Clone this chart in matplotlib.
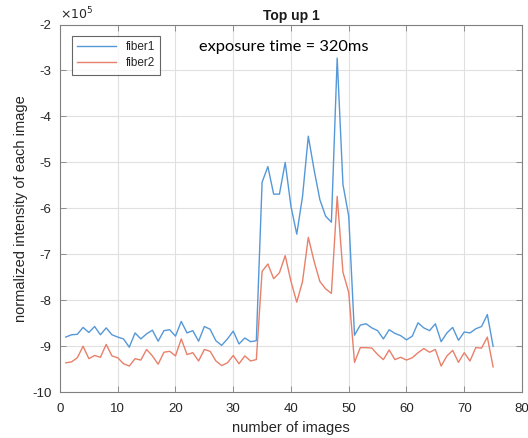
import matplotlib
matplotlib.use("Agg")
import matplotlib.pyplot as plt
import numpy as np

plt.rcParams['font.family'] = ['Liberation Sans', 'DejaVu Sans']

images = list(range(1, 76))
fiber1 = [-8.80, -8.75, -8.74, -8.59, -8.70, -8.57, -8.75, -8.60, -8.75, -8.80,
          -8.84, -9.02, -8.71, -8.84, -8.73, -8.65, -8.89, -8.66, -8.64, -8.78,
          -8.46, -8.71, -8.66, -8.89, -8.57, -8.63, -8.88, -8.98, -8.84, -8.67,
          -8.95, -8.82, -8.90, -8.88, -5.43, -5.09, -5.69, -5.69, -5.00, -5.96,
          -6.56, -5.74, -4.43, -5.16, -5.81, -6.17, -6.30, -2.73, -5.48, -6.17,
          -8.76, -8.54, -8.51, -8.60, -8.66, -8.84, -8.64, -8.72, -8.77, -8.86,
          -8.78, -8.49, -8.60, -8.66, -8.51, -8.90, -8.71, -8.59, -8.87, -8.69,
          -8.71, -8.62, -8.57, -8.31, -9.00]
fiber2 = [-9.36, -9.34, -9.25, -9.00, -9.27, -9.20, -9.24, -8.96, -9.21, -9.25,
          -9.38, -9.43, -9.27, -9.30, -9.07, -9.21, -9.39, -9.13, -9.11, -9.21,
          -8.84, -9.18, -9.14, -9.32, -9.07, -9.11, -9.32, -9.42, -9.36, -9.20,
          -9.38, -9.21, -9.32, -9.29, -7.37, -7.21, -7.53, -7.40, -7.03, -7.59,
          -8.04, -7.59, -6.63, -7.15, -7.59, -7.75, -7.85, -5.74, -7.39, -7.83,
          -9.35, -9.03, -9.03, -9.04, -9.18, -9.29, -9.08, -9.29, -9.24, -9.30,
          -9.25, -9.14, -9.05, -9.13, -9.07, -9.43, -9.21, -9.09, -9.35, -9.14,
          -9.32, -9.03, -9.04, -8.80, -9.45]
xticks = [0, 10, 20, 30, 40, 50, 60, 70, 80]
yticks = [-10, -9, -8, -7, -6, -5, -4, -3, -2]

fig = plt.figure(figsize=(5.28, 4.38), dpi=100)
ax = fig.add_axes([0.1136, 0.1045, 0.875, 0.8395])

ax.plot(images, fiber1, color='#5598d8', lw=1.0, label='fiber1')
ax.plot(images, fiber2, color='#e8806a', lw=1.0, label='fiber2')

ax.set_xlim(0, 80)
ax.set_ylim(-10, -2)
ax.set_xticks(xticks)
ax.set_yticks(yticks)
ax.set_yticklabels([str(v) for v in yticks])
ax.grid(True, color='#e0e0e0', lw=0.8)
ax.set_axisbelow(True)
for s in ax.spines.values():
    s.set_color('#808080')
    s.set_linewidth(0.8)
ax.tick_params(direction='in', length=4, width=0.6, color='#808080',
               labelsize=9.5, labelcolor='#262626', top=True, right=True)
ax.tick_params(axis='x', pad=8)
ax.tick_params(axis='y', pad=6)

ax.set_xlabel('number of images', fontsize=10.5, color='#262626', labelpad=4)
ax.set_ylabel('normalized intensity of each image', fontsize=10.5, color='#262626', labelpad=3)
ax.set_title('Top up 1', fontsize=10, fontweight='bold', color='#1a1a1a', pad=3)

ax.text(0.0, 1.005, r'$\times10^5$', transform=ax.transAxes, fontsize=9,
        color='#262626', ha='left', va='bottom')

ax.text(0.30, 0.94, 'exposure time = 320ms', transform=ax.transAxes,
        fontsize=11.8, family='Lato', color='black', ha='left', va='center')

leg = ax.legend(loc='upper left', fontsize=8.5, frameon=True, fancybox=False,
                edgecolor='#404040', handlelength=3.3, borderpad=0.45,
                labelspacing=0.35, bbox_to_anchor=(0.013, 0.985))
leg.get_frame().set_linewidth(0.8)
for t in leg.get_texts():
    t.set_color('#262626')

fig.savefig('out.png', dpi=100, facecolor='white')
